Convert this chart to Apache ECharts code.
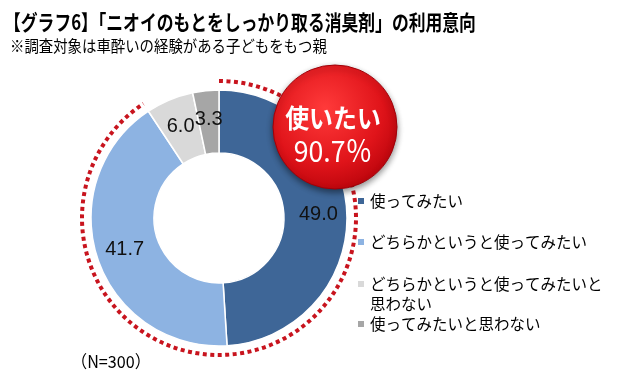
<!DOCTYPE html>
<html><head><meta charset="utf-8">
<script src="https://cdn.jsdelivr.net/npm/echarts@6/dist/echarts.min.js"></script>
<style>html,body{margin:0;padding:0;background:#fff}#c{width:627px;height:387px}</style>
</head><body><div id="c"></div>
<script>
const titleText = '【グラフ6】「ニオイのもとをしっかり取る消臭剤」の利用意向';
const subtitleText = '※調査対象は車酔いの経験がある子どもをもつ親';
const sampleText = '（N=300）';
const categories = ['使ってみたい', 'どちらかというと使ってみたい', 'どちらかというと使ってみたいと思わない', '使ってみたいと思わない'];
const values = [49.0, 41.7, 6.0, 3.3];
const colors = ['#3e6697', '#8db3e2', '#d9d9d9', '#a6a6a6'];
const badgeLabel = '使いたい';
const positiveCount = 2; // first two categories = "want to use"

const positive = values.slice(0, positiveCount).reduce((a, b) => a + b, 0);
const total = values.reduce((a, b) => a + b, 0);
const CX = 219, CY = 218;
const JP = '"Noto Sans CJK JP", "Noto Sans", sans-serif';

const chart = echarts.init(document.getElementById('c'));
const legendBase = {
  orient: 'vertical', left: 356, padding: 0, icon: 'rect', itemWidth: 8, itemHeight: 8,
  textStyle: { fontSize: 15.5, lineHeight: 20, color: '#000', fontFamily: JP }
};
const legendTops = [191, 232, 254, 314];
const legends = categories.map((n, i) => Object.assign({}, legendBase, {
  top: legendTops[i],
  data: [n],
  formatter: i === 2 ? () => '\nどちらかというと使ってみたいと\n思わない' : undefined
}));

chart.setOption({
  animation: false,
  color: colors,
  legend: legends,
  series: [{
    type: 'pie',
    center: [CX, CY],
    radius: [65, 128],
    startAngle: 90,
    clockwise: true,
    itemStyle: { borderColor: '#fff', borderWidth: 1.5 },
    label: {
      show: true, position: 'inside', color: '#111', fontSize: 20,
      fontFamily: '"Liberation Sans", Arial, sans-serif',
      formatter: p => p.value.toFixed(1)
    },
    labelLine: { show: false },
    emphasis: { disabled: true },
    data: categories.map((n, i) => ({ name: n, value: values[i] }))
  }],
  graphic: [
    { type: 'text', x: 4, y: 22, scaleX: 0.8, style: { text: titleText, font: 'bold 21px ' + JP, fill: '#000', verticalAlign: 'middle' } },
    { type: 'text', x: 10, y: 46, scaleX: 0.9, style: { text: subtitleText, font: '16px ' + JP, fill: '#000', verticalAlign: 'middle' } },
    { type: 'text', x: 71, y: 362, scaleX: 0.95, style: { text: sampleText, font: '17px ' + JP, fill: '#000', verticalAlign: 'middle' } },
    { type: 'arc', z: 5,
      shape: { cx: CX, cy: CY, r: 137, startAngle: -Math.PI / 2, endAngle: -Math.PI / 2 + 2 * Math.PI * positive / total, clockwise: true },
      style: { stroke: '#c8141e', lineWidth: 4, lineDash: [4, 3.5], fill: null } },
    { type: 'circle', z: 10,
      shape: { cx: 335, cy: 127, r: 62 },
      style: {
        fill: new echarts.graphic.RadialGradient(0.42, 0.35, 0.75, [
          { offset: 0, color: '#ff3a3a' }, { offset: 0.6, color: '#e0141a' }, { offset: 1, color: '#b00008' }
        ]),
        stroke: '#a00008', lineWidth: 1,
        shadowBlur: 6, shadowColor: 'rgba(0,0,0,0.45)', shadowOffsetY: 3
      } },
    { type: 'text', z: 11, x: 333, y: 118, scaleX: 0.92,
      style: { text: badgeLabel, font: 'bold 26px ' + JP, fill: '#fff', align: 'center', verticalAlign: 'middle' } },
    { type: 'text', z: 11, x: 333, y: 151, scaleX: 0.92,
      style: { text: positive.toFixed(1) + '％', font: '29px ' + JP, fill: '#fff', align: 'center', verticalAlign: 'middle' } }
  ]
});
</script></body></html>
